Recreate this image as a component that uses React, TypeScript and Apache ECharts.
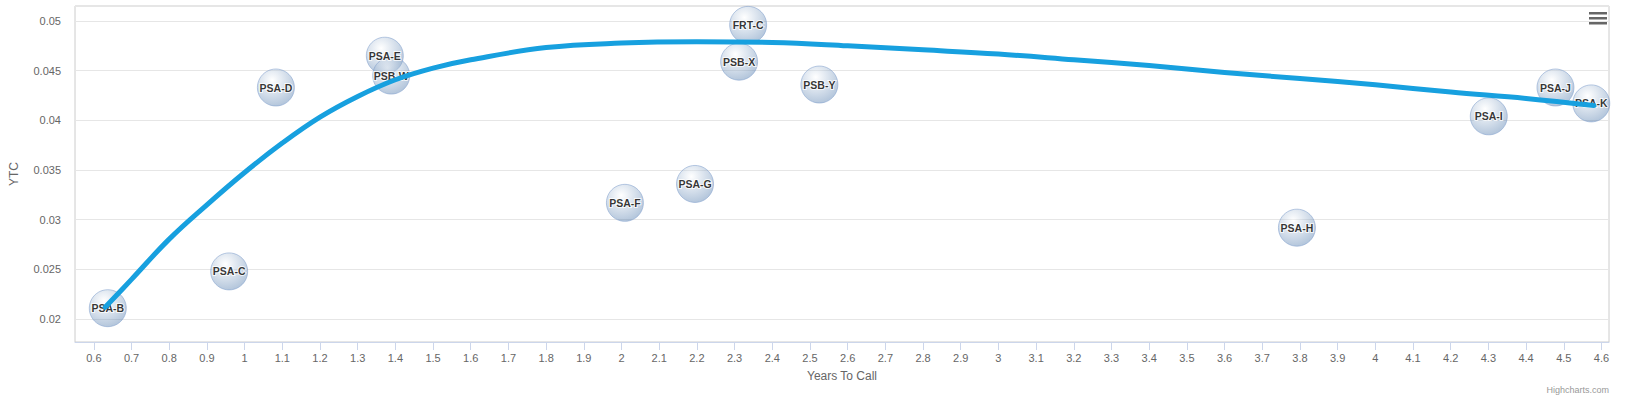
import React, { useEffect, useRef } from "react";
import * as echarts from "echarts";

const bondNames = ["PSA-B", "PSA-C", "PSA-D", "PSA-E", "PSB-W", "PSA-F", "PSA-G", "PSB-X", "FRT-C", "PSB-Y", "PSA-H", "PSA-I", "PSA-J", "PSA-K"];
const yearsToCall = [0.637, 0.959, 1.083, 1.372, 1.389, 2.009, 2.195, 2.312, 2.336, 2.525, 3.792, 4.301, 4.478, 4.573];
const ytcValues = [0.0211, 0.0248, 0.0433, 0.0465, 0.0445, 0.0317, 0.0336, 0.0459, 0.0496, 0.0436, 0.0292, 0.0404, 0.0433, 0.0417];

const trendX = [0.63, 0.7, 0.8, 0.9, 1.0, 1.1, 1.2, 1.3, 1.4, 1.5, 1.6, 1.8, 2.0, 2.2, 2.4, 2.6, 2.8, 3.0, 3.2, 3.4, 3.6, 3.8, 4.0, 4.2, 4.4, 4.58];
const trendY = [0.0212, 0.024, 0.02805, 0.0315, 0.03475, 0.03771, 0.04032, 0.0424, 0.04408, 0.04525, 0.04609, 0.04732, 0.04777, 0.0479, 0.04783, 0.0475, 0.04709, 0.04666, 0.04609, 0.04551, 0.04481, 0.0442, 0.04357, 0.04284, 0.0422, 0.04149];

const FONT = "'Liberation Sans', Arial, sans-serif";

export default function App() {
  const ref = useRef<HTMLDivElement>(null);
  useEffect(() => {
    document.body.style.margin = "0";
    const chart = echarts.init(ref.current!, null, { renderer: "svg" });
    const bubbleData = bondNames.map((n, i) => ({ name: n, value: [yearsToCall[i], ytcValues[i]] }));
    const lineData = trendX.map((x, i) => [x, trendY[i]]);
    const isTenth = (v: number) => Math.abs(v * 10 - Math.round(v * 10)) < 1e-6;
    chart.setOption({
      animation: false,
      textStyle: { fontFamily: FONT },
      grid: {
        left: 75,
        top: 6,
        right: 20,
        bottom: 55,
        show: true,
        borderColor: "#cccccc",
        borderWidth: 1,
        backgroundColor: "transparent",
      },
      xAxis: {
        type: "value",
        min: 0.55,
        max: 4.62,
        splitNumber: 40,
        name: "Years To Call",
        nameLocation: "middle",
        nameGap: 28,
        nameTextStyle: { color: "#666666", fontSize: 12, fontFamily: FONT },
        axisLine: { show: true, lineStyle: { color: "#ccd6eb", width: 1 } },
        axisTick: { show: true, length: 8, lineStyle: { color: "#ccd6eb" } },
        axisLabel: {
          color: "#666666",
          fontSize: 11,
          fontFamily: FONT,
          margin: 10,
          showMinLabel: false,
          showMaxLabel: false,
          formatter: (v: number) => (isTenth(v) ? String(Math.round(v * 10) / 10) : ""),
        },
        splitLine: { show: false },
      },
      yAxis: {
        type: "value",
        min: 0.0177,
        max: 0.0515,
        splitNumber: 7,
        name: "YTC",
        nameLocation: "middle",
        nameGap: 55,
        nameTextStyle: { color: "#666666", fontSize: 12, fontFamily: FONT },
        axisLine: { show: false },
        axisTick: { show: false },
        axisLabel: {
          color: "#666666",
          fontSize: 11,
          fontFamily: FONT,
          margin: 14,
          showMinLabel: false,
          showMaxLabel: false,
          formatter: (v: number) => {
            const k = v / 0.005;
            if (Math.abs(k - Math.round(k)) > 1e-6) return "";
            return String(Math.round(v * 1000) / 1000);
          },
        },
        splitLine: { show: true, lineStyle: { color: "#e6e6e6", width: 1 } },
      },
      series: [
        {
          type: "scatter",
          z: 2,
          symbol: "circle",
          symbolSize: 37,
          data: bubbleData,
          itemStyle: {
            color: {
              type: "radial",
              x: 0.4,
              y: 0.3,
              r: 0.7,
              colorStops: [
                { offset: 0, color: "rgba(255,255,255,0.5)" },
                { offset: 1, color: "rgba(69,114,167,0.5)" },
              ],
            },
            borderColor: "rgba(130,160,205,0.7)",
            borderWidth: 1,
          },
          label: {
            show: true,
            position: "inside",
            formatter: (p: any) => p.name,
            color: "#000000",
            fontWeight: "bold",
            fontSize: 10.5,
            fontFamily: FONT,
            textBorderColor: "#ffffff",
            textBorderWidth: 2,
          },
        },
        {
          type: "line",
          z: 3,
          smooth: 0.4,
          showSymbol: false,
          symbol: "none",
          data: lineData,
          lineStyle: { color: "#17a0df", width: 5, cap: "round", join: "round" },
        },
      ],
      graphic: [
        { type: "rect", shape: { x: 1589, y: 12, width: 18, height: 2.5 }, style: { fill: "#666666" } },
        { type: "rect", shape: { x: 1589, y: 17, width: 18, height: 2.5 }, style: { fill: "#666666" } },
        { type: "rect", shape: { x: 1589, y: 22, width: 18, height: 2.5 }, style: { fill: "#666666" } },
        {
          type: "text",
          right: 20,
          top: 385,
          style: { text: "Highcharts.com", fill: "#999999", fontSize: 9, fontFamily: FONT },
        },
      ],
    });
    return () => chart.dispose();
  }, []);
  return <div ref={ref} style={{ width: 1629, height: 397 }} />;
}
